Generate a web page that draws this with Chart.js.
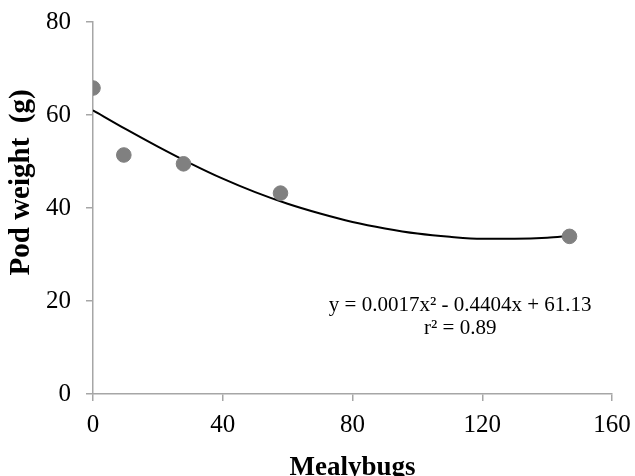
<!DOCTYPE html>
<html>
<head>
<meta charset="utf-8">
<script src="https://cdn.jsdelivr.net/npm/chart.js@4.4.1/dist/chart.umd.min.js"></script>
<style>
  html, body { margin: 0; padding: 0; background: #fff; }
  #wrap { width: 635px; height: 476px; }
</style>
</head>
<body>
<div id="wrap"><canvas id="myChart" width="635" height="476"></canvas></div>
<script>
// 관측값 (깍지벌레 수 vs 꼬투리 무게)
const mealybugs = [0, 9.5, 27.9, 57.8, 146.9];
const podWeight = [65.8, 51.4, 49.5, 43.2, 33.9];

// 추세선
const trendX = [0, 10, 20, 30, 40, 50, 60, 70, 80, 90, 100, 110, 120, 130, 140, 147];
const trendY = [61.0, 57.0, 53.2, 49.6, 46.3, 43.4, 40.9, 38.8, 37.0, 35.6, 34.5, 33.8, 33.4, 33.4, 33.6, 34.0];

const xTicks = [0, 40, 80, 120, 160];
const yTicks = [0, 20, 40, 60, 80];
const equationLines = ['y = 0.0017x\u00B2 - 0.4404x + 61.13', 'r\u00B2 = 0.89'];
const yTitle = 'Pod weight  (g)';

const serif = '"Liberation Serif", "Times New Roman", serif';
const axisGray = '#a6a6a6';

// 회귀식과 y축 제목 그리기
const textPlugin = {
    id: 'texts',
    afterDatasetsDraw(chart) {
        const c = chart.ctx;
        const xs = chart.scales.x, ys = chart.scales.y;
        c.save();
        c.fillStyle = '#000';
        c.font = '21px ' + serif;
        c.textAlign = 'center';
        c.textBaseline = 'middle';
        c.fillText(equationLines[0], xs.getPixelForValue(113.2), ys.getPixelForValue(19.1));
        c.fillText(equationLines[1], xs.getPixelForValue(113.2), ys.getPixelForValue(14.1));

        // y축 제목 (축 중앙보다 조금 위쪽)
        c.translate(22, ys.getPixelForValue(45.5));
        c.rotate(-Math.PI / 2);
        c.font = 'bold 29px ' + serif;
        c.fillText(yTitle, 0, 0);
        c.restore();
    }
};

const ctx = document.getElementById('myChart').getContext('2d');
const chart = new Chart(ctx, {
    type: 'scatter',
    data: {
        datasets: [{
            label: 'Pod weight',
            data: mealybugs.map((x, i) => ({ x: x, y: podWeight[i] })),
            backgroundColor: '#808080',
            borderColor: '#808080',
            pointRadius: 7.3,
            pointHoverRadius: 7.3
        }, {
            label: 'Trend',
            data: trendX.map((x, i) => ({ x: x, y: trendY[i] })),
            showLine: true,
            borderColor: '#000',
            borderWidth: 2,
            pointRadius: 0,
            cubicInterpolationMode: 'monotone',
            fill: false
        }]
    },
    options: {
        responsive: false,
        animation: false,
        layout: { padding: { top: 22, right: 23, left: 0, bottom: 0 } },
        plugins: {
            legend: { display: false },
            tooltip: { enabled: false }
        },
        scales: {
            x: {
                type: 'linear',
                min: 0,
                max: 160,
                afterBuildTicks: s => { s.ticks = xTicks.map(v => ({ value: v })); },
                afterFit: s => { s.height = 82; s.paddingLeft = 0; s.paddingRight = 0; },
                grid: { drawOnChartArea: false, drawTicks: true, tickLength: 7, color: axisGray, lineWidth: 1.5 },
                border: { color: axisGray, width: 1.5 },
                ticks: { color: '#000', font: { family: serif, size: 25 }, padding: 9, maxRotation: 0 },
                title: { display: true, text: 'Mealybugs', color: '#000', font: { family: serif, size: 27, weight: 'bold' }, padding: { top: 0, bottom: -8 } }
            },
            y: {
                type: 'linear',
                min: 0,
                max: 80,
                afterBuildTicks: s => { s.ticks = yTicks.map(v => ({ value: v })); },
                afterFit: s => { s.width = 93; s.paddingTop = 0; s.paddingBottom = 0; },
                grid: { drawOnChartArea: false, drawTicks: true, tickLength: 7, color: axisGray, lineWidth: 1.5 },
                border: { color: axisGray, width: 1.5 },
                ticks: { color: '#000', font: { family: serif, size: 25 }, padding: 15 }
            }
        }
    },
    plugins: [textPlugin]
});
</script>
</body>
</html>
